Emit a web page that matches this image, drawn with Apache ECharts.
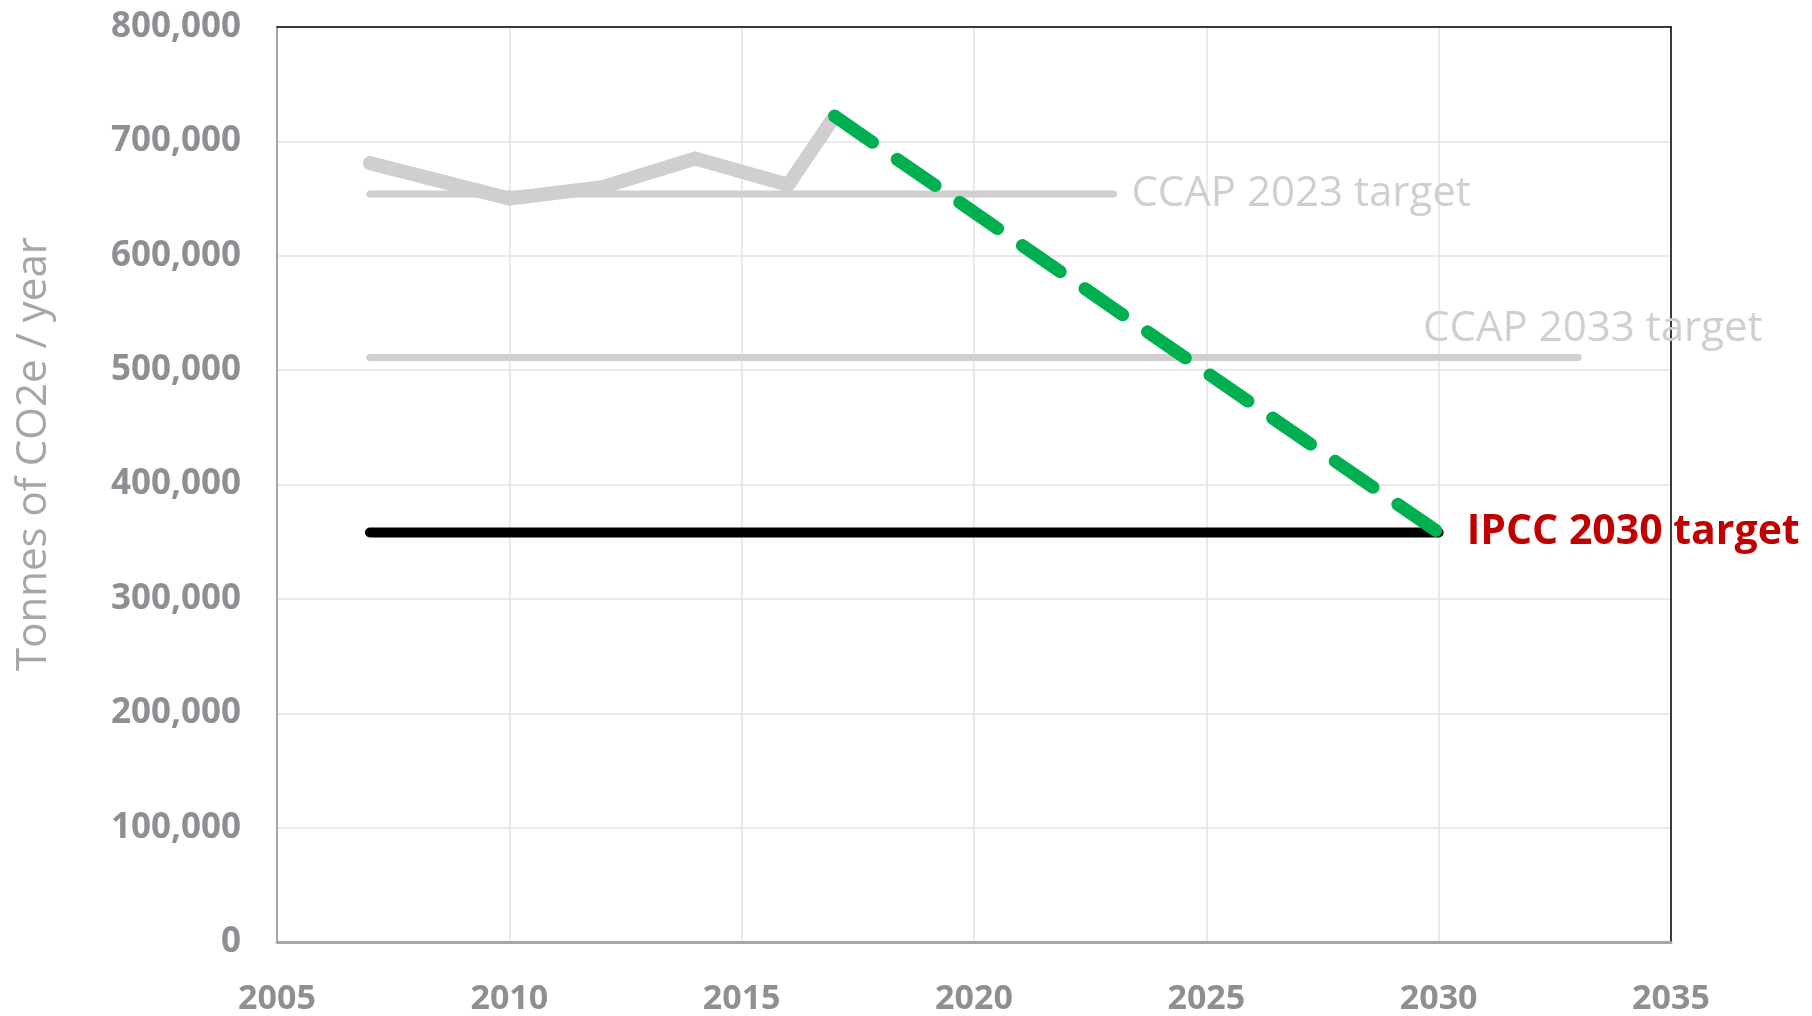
<!DOCTYPE html>
<html>
<head>
<meta charset="utf-8">
<script src="https://cdn.jsdelivr.net/npm/echarts@6/dist/echarts.min.js"></script>
<style>
  html, body { margin: 0; padding: 0; background: #fff; }
  #chart { width: 1812px; height: 1016px; }
</style>
</head>
<body>
<div id="chart"></div>
<script>
// emissions history (year, tonnes)
const emissionYears = [2007, 2010, 2012, 2014, 2016, 2017];
const emissionValues = [681000, 650000, 660000, 685000, 662000, 722000];

// straight path from the last reading to the IPCC target
const pathYears = [2017, 2030];
const pathValues = [722000, 358000];

const ccap2023Years = [2007, 2023];
const ccap2023Value = 654000;
const ccap2033Years = [2007, 2033];
const ccap2033Value = 511000;
const ipccYears = [2007, 2030];
const ipccValue = 358000;

const xTicks = [2005, 2010, 2015, 2020, 2025, 2030, 2035];
const yTicks = [0, 100000, 200000, 300000, 400000, 500000, 600000, 700000, 800000];

const FONT = '"Open Sans", Lato, sans-serif';

function pairs(xs, ys) {
  return xs.map((x, i) => [x, Array.isArray(ys) ? ys[i] : ys]);
}

const chart = echarts.init(document.getElementById('chart'));

const hidden = { show: false };

const options = {
  animation: false,
  grid: { left: 277, right: 141, top: 27, bottom: 74 },
  graphic: [{
    type: 'text',
    x: 34,
    y: 454,
    rotation: Math.PI / 2,
    style: {
      text: 'Tonnes of CO2e / year',
      fill: '#a6a6a6',
      font: '42px "Open Sans", Lato, sans-serif',
      align: 'center',
      verticalAlign: 'middle'
    }
  }],
  xAxis: [{
    type: 'value',
    min: xTicks[0],
    max: xTicks[xTicks.length - 1],
    interval: 5,
    axisLine: { show: true, onZero: false, lineStyle: { color: '#a6a6a6', width: 3 } },
    axisTick: hidden,
    splitLine: { show: true, lineStyle: { color: '#e3e3e3', width: 1.5 } },
    axisLabel: {
      margin: 40,
      color: '#8e8e93',
      fontFamily: FONT,
      fontWeight: 'bold',
      fontSize: 34,
      formatter: (v) => String(v)
    }
  }, {
    // top frame line
    type: 'value',
    position: 'top',
    min: xTicks[0],
    max: xTicks[xTicks.length - 1],
    axisLine: { show: true, onZero: false, lineStyle: { color: '#000', width: 1.5 } },
    axisTick: hidden, axisLabel: hidden, splitLine: hidden
  }],
  yAxis: [{
    type: 'value',
    min: yTicks[0],
    max: yTicks[yTicks.length - 1],
    interval: 100000,
    axisLine: { show: true, lineStyle: { color: '#a6a6a6', width: 2 } },
    axisTick: hidden,
    splitLine: { show: true, lineStyle: { color: '#e3e3e3', width: 1.5 } },
    axisLabel: {
      margin: 36,
      color: '#8e8e93',
      fontFamily: FONT,
      fontWeight: 'bold',
      fontSize: 35,
      formatter: (v) => v.toLocaleString('en-US')
    }
  }, {
    // right frame line
    type: 'value',
    position: 'right',
    min: yTicks[0],
    max: yTicks[yTicks.length - 1],
    axisLine: { show: true, onZero: false, lineStyle: { color: '#000', width: 1.5 } },
    axisTick: hidden, axisLabel: hidden, splitLine: hidden
  }],
  series: [
    {
      name: 'CCAP 2023 target',
      type: 'line',
      data: pairs(ccap2023Years, ccap2023Value),
      symbol: 'none',
      lineStyle: { color: '#d0cece', width: 7, cap: 'round' },
      endLabel: {
        show: true,
        formatter: 'CCAP 2023 target',
        color: '#d0cece',
        fontFamily: FONT,
        fontSize: 42,
        distance: 18
      },
      z: 2
    },
    {
      name: 'CCAP 2033 target',
      type: 'line',
      data: pairs(ccap2033Years, ccap2033Value),
      symbol: 'none',
      lineStyle: { color: '#d0cece', width: 7, cap: 'round' },
      endLabel: {
        show: true,
        formatter: 'CCAP 2033 target',
        color: '#d0cece',
        fontFamily: FONT,
        fontSize: 42,
        distance: 0,
        offset: [-155, -29]
      },
      z: 2
    },
    {
      name: 'Emissions',
      type: 'line',
      data: pairs(emissionYears, emissionValues),
      symbol: 'none',
      lineStyle: { color: '#d0cece', width: 14, cap: 'round', join: 'miter' },
      z: 3
    },
    {
      name: 'IPCC 2030 target',
      type: 'line',
      data: pairs(ipccYears, ipccValue),
      symbol: 'none',
      lineStyle: { color: '#000', width: 10, cap: 'round' },
      endLabel: {
        show: true,
        formatter: 'IPCC 2030 target',
        color: '#c00000',
        fontFamily: FONT,
        fontWeight: 'bold',
        fontSize: 41,
        distance: 28
      },
      z: 4
    },
    {
      name: 'Path',
      type: 'line',
      data: pairs(pathYears, pathValues),
      symbol: 'none',
      lineStyle: { color: '#00b050', width: 13, cap: 'round', type: [46, 30] },
      z: 5
    }
  ]
};

chart.setOption(options);
</script>
</body>
</html>
